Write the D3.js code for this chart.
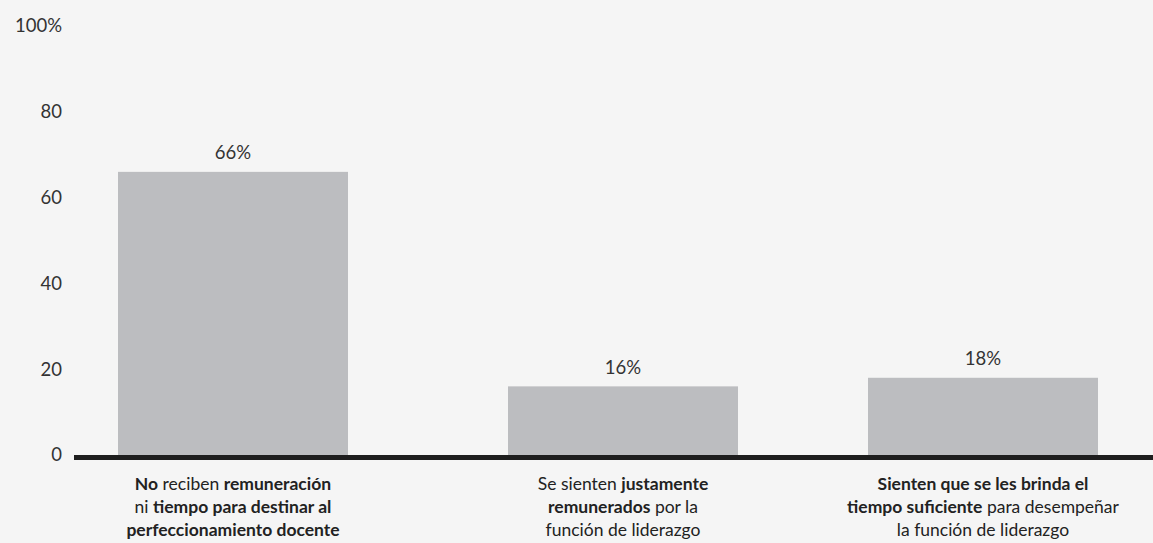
<!DOCTYPE html>
<html>
<head>
<meta charset="utf-8">
<script src="https://cdn.jsdelivr.net/npm/d3@7"></script>
<style>
  html, body { margin: 0; padding: 0; background: #f5f5f5; }
  svg { display: block; font-family: "Lato", "Open Sans", sans-serif; }
</style>
</head>
<body>
<svg id="chart" width="1153" height="543"></svg>
<script>
// Category labels: each line is a list of [text, bold] runs
const categoryLines = [
  [
    [["No", true], [" reciben ", false], ["remuneración", true]],
    [["ni ", false], ["tiempo para destinar al", true]],
    [["perfeccionamiento docente", true]]
  ],
  [
    [["Se sienten ", false], ["justamente", true]],
    [["remunerados", true], [" por la", false]],
    [["función de liderazgo", false]]
  ],
  [
    [["Sienten que se les brinda el", true]],
    [["tiempo suficiente", true], [" para desempeñar", false]],
    [["la función de liderazgo", false]]
  ]
];
const categoryIds = ["c1", "c2", "c3"];
const values = [66, 16, 18];
const yTicks = [0, 20, 40, 60, 80, 100];

const svg = d3.select("#chart");
const plot = { left: 74, right: 1153, top: 26, bottom: 455 };
const barWidth = 230;

// Category centres along the baseline
const x = d3.scaleOrdinal()
  .domain(categoryIds)
  .range([233, 623, 983]);

const y = d3.scaleLinear().domain([0, 100]).range([plot.bottom, plot.top]);

// Y axis labels (no axis line)
const yAxis = d3.axisLeft(y)
  .tickValues(yTicks)
  .tickSize(0)
  .tickPadding(0)
  .tickFormat(d => d === 100 ? "100%" : String(d));
const yg = svg.append("g").attr("transform", "translate(62,0)").call(yAxis);
yg.select(".domain").remove();
yg.selectAll("text")
  .attr("font-size", 18.5)
  .attr("fill", "#333")
  .attr("font-family", "Lato, 'Open Sans', sans-serif");

// Bars
svg.append("g").selectAll("rect")
  .data(values)
  .join("rect")
  .attr("x", (d, i) => x(categoryIds[i]) - barWidth / 2)
  .attr("y", d => y(d))
  .attr("width", barWidth)
  .attr("height", d => y(0) - y(d))
  .attr("fill", "#bcbdc0");

// Value labels
svg.append("g").selectAll("text")
  .data(values)
  .join("text")
  .attr("x", (d, i) => x(categoryIds[i]))
  .attr("y", d => y(d) - 12.5)
  .attr("text-anchor", "middle")
  .attr("font-size", 18.5)
  .attr("fill", "#333")
  .text(d => d + "%");

// Baseline
svg.append("line")
  .attr("x1", plot.left).attr("x2", plot.right)
  .attr("y1", y(0) + 2.5).attr("y2", y(0) + 2.5)
  .attr("stroke", "#1e1e1e")
  .attr("stroke-width", 5);

// Category labels
const catG = svg.append("g");
categoryLines.forEach((lines, i) => {
  const cx = x(categoryIds[i]);
  lines.forEach((runs, j) => {
    const t = catG.append("text")
      .attr("x", cx)
      .attr("y", 490 + j * 23.2)
      .attr("text-anchor", "middle")
      .attr("font-size", 17.5)
      .attr("fill", "#222");
    runs.forEach(([s, b]) => {
      t.append("tspan")
        .attr("font-weight", b ? 700 : 400)
        .text(s);
    });
  });
});
</script>
</body>
</html>
